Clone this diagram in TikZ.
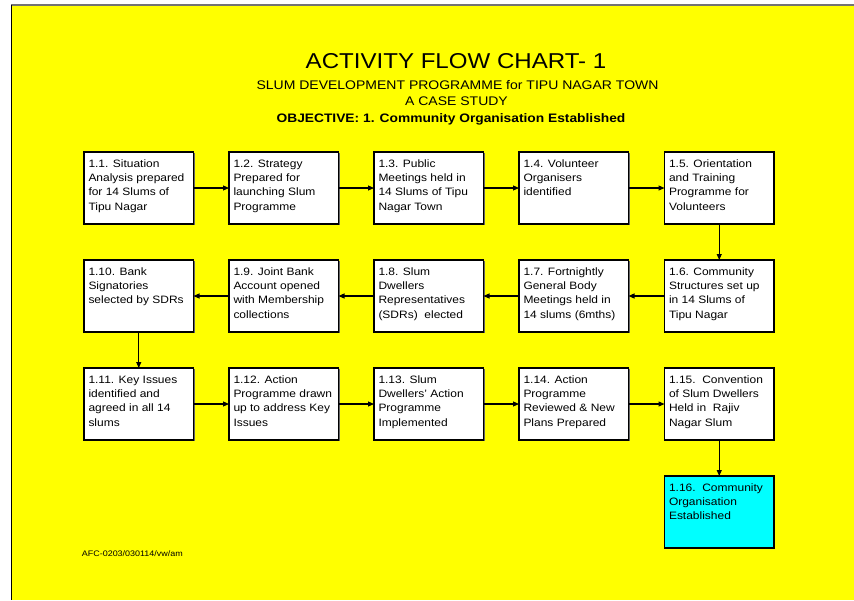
\documentclass[tikz,border=0pt]{standalone}
\usepackage{fontspec}
\setmainfont{Liberation Sans}[FakeStretch=1.12]
\usetikzlibrary{arrows.meta,shadows}

\definecolor{pageyellow}{RGB}{255,255,0}
\definecolor{goalcyan}{RGB}{0,255,255}

% box contents: first baseline 15pt below the top edge, fixed 72pt height
\newcommand{\actxt}[1]{\hspace*{4.5pt}\parbox[t][72pt][t]{105pt}{\raggedright\fontsize{10.7}{14.4}\selectfont\rule{0pt}{15pt}#1}}

\tikzset{
  actbox/.style={draw=black, line width=1.1pt, fill=white, inner sep=0pt, outer sep=0pt,
    anchor=north west, minimum width=109.5pt, minimum height=72pt,
    drop shadow={shadow xshift=1pt, shadow yshift=-1pt, fill=black!60, opacity=1}},
  goalbox/.style={actbox, fill=goalcyan},
  flow/.style={line width=1.1pt, -{Triangle[length=6pt,width=5pt]}},
}

\begin{document}
\begin{tikzpicture}[x=1pt,y=-1pt]
\useasboundingbox (0,0) rectangle (854,600);
\fill[white] (0,0) rectangle (854,600);
\fill[pageyellow] (11,5) rectangle (854,600);
\draw[black!55, line width=1.6pt] (11,5) -- (854,5);
\draw[black, line width=1pt] (11.5,5) -- (11.5,600);

% headings
\node[anchor=base, inner sep=0pt] (title) at (456,68.3) {\fontsize{21.5}{24}\selectfont ACTIVITY FLOW CHART- 1};
\node[anchor=base, inner sep=0pt] (sub1) at (457.5,89.3) {\fontsize{12.5}{14}\selectfont SLUM DEVELOPMENT PROGRAMME for TIPU NAGAR TOWN};
\node[anchor=base, inner sep=0pt] (sub2) at (456.5,105.7) {\fontsize{12.5}{14}\selectfont A CASE STUDY};
\node[anchor=base, inner sep=0pt] (objective) at (451,122) {\fontsize{12.3}{14}\selectfont\bfseries OBJECTIVE: 1. Community Organisation Established};

% row 1
\node[actbox] (b1) at (84,152) {\actxt{1.1. Situation\\Analysis prepared\\for 14 Slums of\\Tipu Nagar}};
\node[actbox] (b2) at (229,152) {\actxt{1.2. Strategy\\Prepared for\\launching Slum\\Programme}};
\node[actbox] (b3) at (374,152) {\actxt{1.3. Public\\Meetings held in\\14 Slums of Tipu\\Nagar Town}};
\node[actbox] (b4) at (519,152) {\actxt{1.4. Volunteer\\Organisers\\identified}};
\node[actbox] (b5) at (664.5,152) {\actxt{1.5. Orientation\\and Training\\Programme for\\Volunteers}};

% row 2
\node[actbox] (b10) at (84,260) {\actxt{1.10. Bank\\Signatories\\selected by SDRs}};
\node[actbox] (b9) at (229,260) {\actxt{1.9. Joint Bank\\Account opened\\with Membership\\collections}};
\node[actbox] (b8) at (374,260) {\actxt{1.8. Slum\\Dwellers\\Representatives\\(SDRs)\ \ elected}};
\node[actbox] (b7) at (519,260) {\actxt{1.7. Fortnightly\\General Body\\Meetings held in\\14 slums (6mths)}};
\node[actbox] (b6) at (664.5,260) {\actxt{1.6. Community\\Structures set up\\in 14 Slums of\\Tipu Nagar}};

% row 3
\node[actbox] (b11) at (84,368) {\actxt{1.11. Key Issues\\identified and\\agreed in all 14\\slums}};
\node[actbox] (b12) at (229,368) {\actxt{1.12. Action\\Programme drawn\\up to address Key\\Issues}};
\node[actbox] (b13) at (374,368) {\actxt{1.13. Slum\\Dwellers' Action\\Programme\\Implemented}};
\node[actbox] (b14) at (519,368) {\actxt{1.14. Action\\Programme\\Reviewed \& New\\Plans Prepared}};
\node[actbox] (b15) at (664.5,368) {\actxt{1.15.\ \ Convention\\of Slum Dwellers\\Held in\ \ Rajiv\\Nagar Slum}};

% outcome
\node[goalbox] (b16) at (664.5,476) {\actxt{1.16.\ \ Community\\Organisation\\Established}};

% connectors
\draw[flow] (b1.east) -- (b2.west);
\draw[flow] (b2.east) -- (b3.west);
\draw[flow] (b3.east) -- (b4.west);
\draw[flow] (b4.east) -- (b5.west);
\draw[flow] (b5.south) -- (b6.north);
\draw[flow] (b6.west) -- (b7.east);
\draw[flow] (b7.west) -- (b8.east);
\draw[flow] (b8.west) -- (b9.east);
\draw[flow] (b9.west) -- (b10.east);
\draw[flow] (b10.south) -- (b11.north);
\draw[flow] (b11.east) -- (b12.west);
\draw[flow] (b12.east) -- (b13.west);
\draw[flow] (b13.east) -- (b14.west);
\draw[flow] (b14.east) -- (b15.west);
\draw[flow] (b15.south) -- (b16.north);

% reference code
\node[anchor=base west, inner sep=0pt] (refcode) at (81.7,556.7) {\fontsize{8}{9}\selectfont AFC-0203/030114/vw/am};
\end{tikzpicture}
\end{document}
